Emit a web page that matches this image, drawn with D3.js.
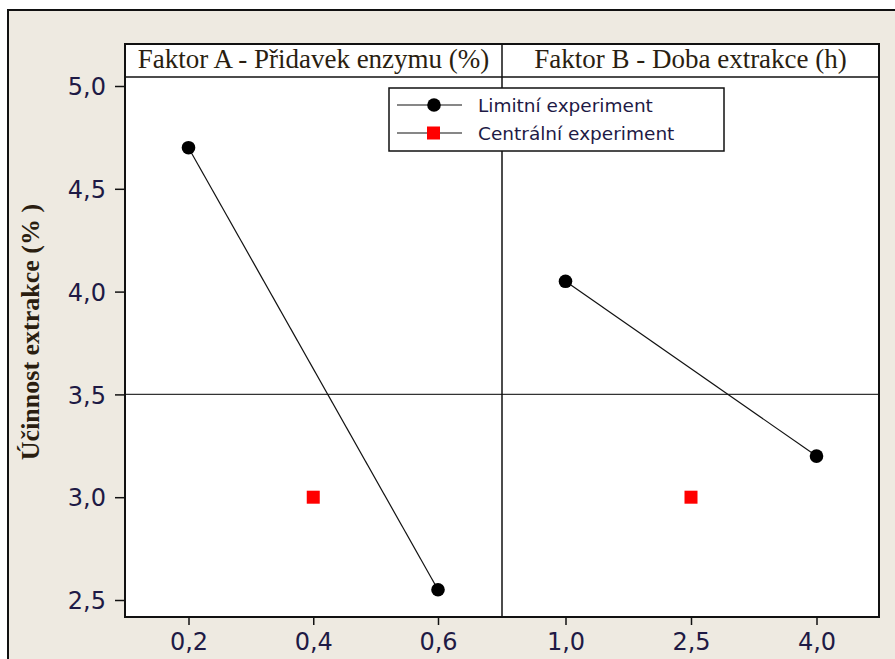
<!DOCTYPE html>
<html>
<head>
<meta charset="utf-8">
<script src="https://cdn.jsdelivr.net/npm/d3@7"></script>
<style>
  html, body { margin: 0; padding: 0; background: #ffffff; }
  svg { display: block; }
</style>
</head>
<body>
<svg id="chart" width="895" height="659"></svg>
<script>
// Main effects plot data
const panelTitles = ["Faktor A - Přidavek enzymu (%)", "Faktor B - Doba extrakce (h)"];
const levelsA = [0.2, 0.6];
const meansA = [4.70, 2.55];
const centerA = [0.4];
const centerMeanA = [3.0];
const levelsB = [1.0, 4.0];
const meansB = [4.05, 3.20];
const centerB = [2.5];
const centerMeanB = [3.0];
const ticksA = [0.2, 0.4, 0.6];
const ticksB = [1.0, 2.5, 4.0];
const ticksY = [2.5, 3.0, 3.5, 4.0, 4.5, 5.0];
const overallMean = 3.5;
const yTitle = "Účinnost extrakce (% )";
const legendLabels = ["Limitní experiment", "Centrální experiment"];

const svg = d3.select("#chart");
const fmt = v => d3.format(".1f")(v).replace(".", ",");
const sans = "'DejaVu Sans', Verdana, sans-serif";
const serif = "'Liberation Serif', 'Times New Roman', serif";
const labelInk = "#1e1a45";

// Outer frame
svg.append("rect").attr("x", 8).attr("y", 10).attr("width", 900).attr("height", 660)
  .attr("fill", "#eeeae1").attr("stroke", "#111").attr("stroke-width", 2);

const plotLeft = 125, plotMid = 502, plotRight = 879;
const stripTop = 44, plotTop = 77, plotBottom = 617;

const y = d3.scaleLinear().domain([2.5, 5.0]).range([600, 86]);
const xA = d3.scaleLinear().domain([0.2, 0.6]).range([188.5, 438]);
xA.domain([xA.invert(plotLeft), xA.invert(plotMid)]).range([plotLeft, plotMid]);
const xB = d3.scaleLinear().domain([1.0, 4.0]).range([565.5, 816.5]);
xB.domain([xB.invert(plotMid), xB.invert(plotRight)]).range([plotMid, plotRight]);

// Panel backgrounds
svg.append("rect").attr("x", plotLeft).attr("y", stripTop)
  .attr("width", plotRight - plotLeft).attr("height", plotBottom - stripTop)
  .attr("fill", "#fff");

// Overall mean reference line
svg.append("line").attr("x1", plotLeft).attr("x2", plotRight)
  .attr("y1", y(overallMean)).attr("y2", y(overallMean))
  .attr("stroke", "#333").attr("stroke-width", 1.2);

// Panel divider and strip border
svg.append("line").attr("x1", plotMid).attr("x2", plotMid)
  .attr("y1", stripTop).attr("y2", plotBottom).attr("stroke", "#111").attr("stroke-width", 1.5);
svg.append("line").attr("x1", plotLeft).attr("x2", plotRight)
  .attr("y1", plotTop).attr("y2", plotTop).attr("stroke", "#111").attr("stroke-width", 1.5);
svg.append("rect").attr("x", plotLeft).attr("y", stripTop)
  .attr("width", plotRight - plotLeft).attr("height", plotBottom - stripTop)
  .attr("fill", "none").attr("stroke", "#111").attr("stroke-width", 2);

// Strip titles
svg.selectAll("text.strip").data(panelTitles).join("text")
  .attr("class", "strip")
  .attr("x", (d, i) => i === 0 ? (plotLeft + plotMid) / 2 : (plotMid + plotRight) / 2)
  .attr("y", 68)
  .attr("text-anchor", "middle")
  .attr("font-family", serif)
  .attr("font-size", 27)
  .attr("fill", "#2a1e10")
  .text(d => d);

// Y axis
const yAxis = d3.axisLeft(y).tickValues(ticksY).tickFormat(fmt).tickSize(10).tickSizeOuter(0);
const gy = svg.append("g").attr("transform", `translate(${plotLeft},0)`).call(yAxis);
gy.select(".domain").remove();
gy.selectAll(".tick line").attr("stroke", "#111").attr("stroke-width", 1.5);
gy.selectAll(".tick text").attr("x", -19).attr("dy", "0.36em")
  .attr("font-family", sans).attr("font-size", 24).attr("fill", labelInk);

// X axes
function xAxisFor(scale, ticks) {
  const g = svg.append("g").attr("transform", `translate(0,${plotBottom})`)
    .call(d3.axisBottom(scale).tickValues(ticks).tickFormat(fmt).tickSize(8).tickSizeOuter(0));
  g.select(".domain").remove();
  g.selectAll(".tick line").attr("stroke", "#111").attr("stroke-width", 1.5);
  g.selectAll(".tick text").attr("y", 16).attr("dy", "0.71em")
    .attr("font-family", sans).attr("font-size", 24).attr("fill", labelInk);
}
xAxisFor(xA, ticksA);
xAxisFor(xB, ticksB);

// Y title
svg.append("text")
  .attr("transform", "translate(39,332) rotate(-90)")
  .attr("text-anchor", "middle")
  .attr("font-family", serif)
  .attr("font-weight", "bold").attr("font-size", 26).attr("fill", "#2a1e10")
  .attr("xml:space", "preserve")
  .style("white-space", "pre")
  .text(yTitle);

// Main effect lines and points
const line = (xs) => d3.line().x(d => xs(d[0])).y(d => y(d[1]));
const panels = [
  { x: xA, pts: levelsA.map((v, i) => [v, meansA[i]]), ctr: centerA.map((v, i) => [v, centerMeanA[i]]) },
  { x: xB, pts: levelsB.map((v, i) => [v, meansB[i]]), ctr: centerB.map((v, i) => [v, centerMeanB[i]]) }
];
panels.forEach(p => {
  svg.append("path").datum(p.pts).attr("d", line(p.x))
    .attr("fill", "none").attr("stroke", "#111").attr("stroke-width", 1.2);
  svg.selectAll(null).data(p.pts).join("circle")
    .attr("cx", d => p.x(d[0])).attr("cy", d => y(d[1])).attr("r", 6.8).attr("fill", "#000");
  svg.selectAll(null).data(p.ctr).join("rect")
    .attr("x", d => p.x(d[0]) - 6.5).attr("y", d => y(d[1]) - 6.5)
    .attr("width", 13).attr("height", 13).attr("fill", "#ff0000");
});

// Legend
const lg = svg.append("g");
lg.append("rect").attr("x", 389).attr("y", 88).attr("width", 335).attr("height", 63)
  .attr("fill", "#fff").attr("stroke", "#111").attr("stroke-width", 1.5);
legendLabels.forEach((t, i) => {
  const ly = 105 + i * 28;
  lg.append("line").attr("x1", 397).attr("x2", 462).attr("y1", ly).attr("y2", ly)
    .attr("stroke", "#111").attr("stroke-width", 1.2);
  if (i === 0) {
    lg.append("circle").attr("cx", 434).attr("cy", ly).attr("r", 6.8).attr("fill", "#000");
  } else {
    lg.append("rect").attr("x", 427).attr("y", ly - 6.5).attr("width", 13).attr("height", 13).attr("fill", "#ff0000");
  }
  lg.append("text").attr("x", 478).attr("y", ly).attr("dy", "0.36em")
    .attr("font-family", sans).attr("font-size", 18.5).attr("fill", labelInk)
    .text(t);
});
</script>
</body>
</html>
